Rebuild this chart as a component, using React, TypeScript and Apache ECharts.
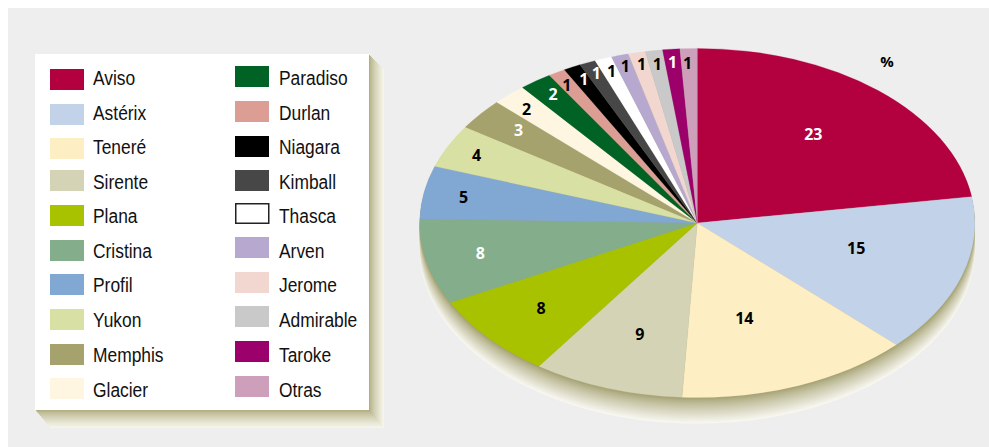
import React, { useEffect, useRef } from "react";
import * as echarts from "echarts";

const leftNames = ["Aviso", "Astérix", "Teneré", "Sirente", "Plana", "Cristina", "Profil", "Yukon", "Memphis", "Glacier"];
const rightNames = ["Paradiso", "Durlan", "Niagara", "Kimball", "Thasca", "Arven", "Jerome", "Admirable", "Taroke", "Otras"];
const brands = [...leftNames, ...rightNames];
const shares = [22.6, 14.7, 13.6, 8.8, 7.8, 7.9, 4.9, 4.0, 2.9, 2.0, 1.9, 1.0, 1.0, 0.95, 1.0, 1.0, 1.0, 1.0, 1.0, 1.0];
const colors = ["#B3003F", "#C2D2E8", "#FEEEC4", "#D4D3B5", "#A9C200", "#84AE8B", "#81A8D3", "#D9E0A3", "#A5A26D", "#FEF6E1",
  "#006325", "#DC9E94", "#000000", "#474747", "#FFFFFF", "#B6A8CE", "#F2D7D1", "#C9C9C9", "#9B006B", "#CD9FBB"];
const whiteLabels = ["Aviso", "Cristina", "Memphis", "Paradiso", "Niagara", "Kimball", "Taroke"];
const labelRadius = [0.66, 0.59, 0.57, 0.67, 0.746, 0.8, 0.855, 0.885, 0.836, 0.897, 0.905, 0.92, 0.92, 0.935, 0.926, 0.936, 0.933, 0.922, 0.925, 0.92];
const labelAngle = [39.3, 104, 162.7, 198, 229, 257.7, 280, 296, 309.6, 316.7, 325, 329.3, 333.6, 337.1, 340.5, 343.9, 347.6, 351, 354.5, 357.8];
const leftRowY = [69, 104, 138, 170, 205, 240, 274, 309, 344, 378];
const rightRowY = [66, 101, 136, 170, 203, 237, 272, 306, 341, 376];
const textRowY = [78.5, 113, 147, 182, 216, 251, 285.5, 320, 355, 390];

const CX = 697.3, CY = 223, RX = 277.6, RY = 174.5, DEPTH = 26;
const total = shares.reduce((a, b) => a + b, 0);
const LEGEND_FONT = '"Liberation Sans", sans-serif';
const LABEL_FONT = '"Open Sans", "Noto Sans", sans-serif';

function mix(a: number[], b: number[], t: number) {
  const c = a.map((v, i) => Math.round(v + (b[i] - v) * t));
  return `rgb(${c[0]},${c[1]},${c[2]})`;
}

function buildGraphics() {
  const g: any[] = [{ type: "rect", shape: { x: 8, y: 8, width: 981, height: 439 }, style: { fill: "#EEEEEE" } }];
  for (let i = 15; i >= 1; i--) {
    g.push({
      type: "rect",
      shape: { x: 35 + i, y: 54 + i, width: 334, height: 356 + i * 0.2 },
      style: { fill: mix([178, 174, 130], [246, 245, 234], Math.pow((i - 1) / 14, 0.75)) },
    });
  }
  g.push({ type: "rect", shape: { x: 35, y: 54, width: 334, height: 356 }, style: { fill: "#FFFFFF" } });
  for (let i = DEPTH; i >= 1; i--) {
    g.push({
      type: "ellipse",
      shape: { cx: CX, cy: CY + i, rx: RX, ry: RY },
      style: { fill: mix([165, 162, 115], [248, 247, 240], Math.pow((i - 1) / (DEPTH - 1), 0.8)) },
    });
  }
  const col = (names: string[], rows: number[], x: number, tx: number) => {
    names.forEach((n, i) => {
      const c = colors[brands.indexOf(n)];
      const w = c === "#FFFFFF";
      g.push({
        type: "rect",
        shape: w ? { x: x + 0.75, y: rows[i] + 0.75, width: 33, height: 19.5 } : { x: x, y: rows[i], width: 34, height: 21 },
        style: { fill: c, stroke: w ? "#222" : undefined, lineWidth: w ? 1.5 : 0 },
      });
      g.push({
        type: "text",
        x: tx,
        y: textRowY[i],
        scaleX: 0.87,
        style: { text: n, fill: "#111111", font: `20px ${LEGEND_FONT}`, textAlign: "left", textVerticalAlign: "middle" },
      });
    });
  };
  col(leftNames, leftRowY, 50, 93);
  col(rightNames, rightRowY, 235, 279);
  g.push({
    type: "text",
    x: 887,
    y: 61,
    style: { text: "%", fill: "#000", font: `bold 15px ${LABEL_FONT}`, textAlign: "center", textVerticalAlign: "middle" },
  });
  return g;
}

function renderSlice(params: any, api: any) {
  const i = params.dataIndex;
  let before = 0;
  for (let k = 0; k < i; k++) before += shares[k];
  const value = api.value(0);
  const a0 = (before / total) * Math.PI * 2;
  const a1 = ((before + value) / total) * Math.PI * 2;
  const labelA = (labelAngle[i] * Math.PI) / 180;
  const r = labelRadius[i];
  const lx = CX + RX * r * Math.sin(labelA);
  const ly = CY - RY * r * Math.cos(labelA);
  const color = colors[i];
  return {
    type: "group",
    children: [
      {
        type: "sector",
        x: CX,
        y: CY,
        scaleY: RY / RX,
        shape: { cx: 0, cy: 0, r0: 0, r: RX, startAngle: a0 - Math.PI / 2, endAngle: a1 - Math.PI / 2, clockwise: true },
        style: { fill: color, stroke: color, lineWidth: 0.3 },
      },
      {
        type: "text",
        x: lx,
        y: ly,
        z2: 10,
        style: {
          text: String(Math.round(value)),
          fill: whiteLabels.includes(brands[i]) ? "#FFFFFF" : "#000000",
          font: `bold 16px ${LABEL_FONT}`,
          textAlign: "center",
          textVerticalAlign: "middle",
        },
      },
    ],
  };
}

export default function App() {
  const ref = useRef<HTMLDivElement>(null);
  useEffect(() => {
    const chart = echarts.init(ref.current!, undefined, { renderer: "svg" });
    chart.setOption({
      animation: false,
      graphic: { elements: buildGraphics() },
      series: [
        {
          type: "custom",
          coordinateSystem: "none",
          silent: true,
          renderItem: renderSlice,
          data: shares.map((v, i) => ({ name: brands[i], value: [v] })),
          encode: { value: 0 },
        },
      ],
    });
    return () => chart.dispose();
  }, []);
  return <div ref={ref} style={{ position: "absolute", left: 0, top: 0, width: 989, height: 447 }} />;
}
